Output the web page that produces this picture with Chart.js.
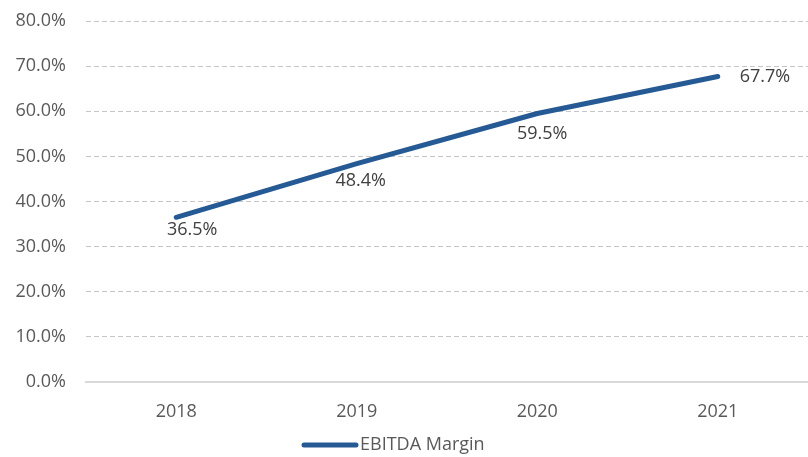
<!DOCTYPE html>
<html><head><meta charset="utf-8">
<script src="https://cdn.jsdelivr.net/npm/chart.js@4/dist/chart.umd.min.js"></script>
<style>html,body{margin:0;padding:0;background:#fff}#wrap{width:808px;height:457px}</style>
</head><body><div id="wrap"><canvas id="c" width="808" height="457"></canvas></div>
<script>
const categories = ['2018','2019','2020','2021'];
const ebitdaMargin = [36.5, 48.4, 59.5, 67.7];
const seriesName = 'EBITDA Margin';
const yTicks = [0,10,20,30,40,50,60,70,80];

const FONT = '"Open Sans", "Liberation Sans", sans-serif';
const LINE_COLOR = '#265A94';
const labelOffsets = [[16,13],[4,17],[5,20],[22,0]];
const labelPlugin = {
  id:'lbl',
  afterDatasetsDraw(chart){
    const ctx = chart.ctx; const meta = chart.getDatasetMeta(0);
    ctx.save();
    ctx.font = '18px ' + FONT;
    ctx.fillStyle = '#404040'; ctx.textBaseline='middle';
    meta.data.forEach((p,i)=>{
      const o = labelOffsets[i];
      const t = ebitdaMargin[i].toFixed(1)+'%';
      ctx.textAlign = i===3 ? 'left':'center';
      ctx.fillText(t, p.x+o[0], p.y+o[1]);
    });
    ctx.restore();
  },
  afterDraw(chart){
    const ctx = chart.ctx;
    ctx.save();
    const y = 445;
    ctx.strokeStyle = LINE_COLOR; ctx.lineWidth = 5; ctx.lineCap = 'round';
    ctx.beginPath(); ctx.moveTo(304, y); ctx.lineTo(356, y); ctx.stroke();
    ctx.font = '18px ' + FONT; ctx.fillStyle = '#595959';
    ctx.textAlign = 'left'; ctx.textBaseline = 'middle';
    ctx.fillText(chart.data.datasets[0].label, 360, y);
    ctx.restore();
  }
};
Chart.defaults.font.family = FONT;
Chart.defaults.font.size = 18;
Chart.defaults.color = '#595959';
new Chart(document.getElementById('c'), {
  type:'line',
  data:{labels:categories, datasets:[{label:seriesName, data:ebitdaMargin, borderColor:LINE_COLOR, backgroundColor:LINE_COLOR, borderWidth:5, borderCapStyle:'round', borderJoinStyle:'round', pointRadius:0, tension:0, fill:false}]},
  options:{
    responsive:false, animation:false,
    layout:{padding:{top:21,right:0,left:0,bottom:0}},
    plugins:{ legend:{display:false}, tooltip:{enabled:false} },
    scales:{
      x:{offset:true, grid:{display:false}, border:{display:true, color:'#d9d9d9', width:2},
         ticks:{padding:11, color:'#595959'}, afterFit(ax){ax.height=75;}},
      y:{min:0,max:80, afterBuildTicks(ax){ax.ticks=yTicks.map(v=>({value:v}));},
         afterFit(ax){ax.width=86; ax.paddingTop=0; ax.paddingBottom=0;},
         grid:{color:'#c6c6c6', lineWidth:1, drawTicks:false}, border:{display:false, dash:[5,3]},
         ticks:{padding:20, color:'#595959', callback:v=>v.toFixed(1)+'%'}}
    }
  },
  plugins:[labelPlugin]
});
</script></body></html>
